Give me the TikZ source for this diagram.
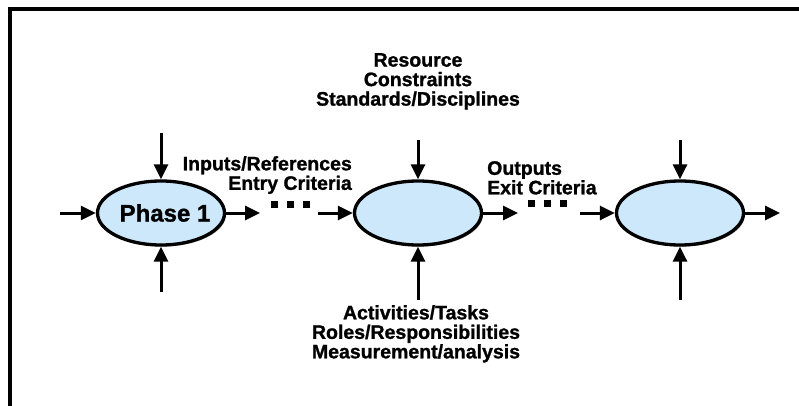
\documentclass[tikz,border=0pt]{standalone}
\usepackage{fontspec}
\setmainfont{Liberation Sans}
\newfontfamily\heavyfont{Liberation Sans Bold}[FakeBold=1.2]
\usetikzlibrary{shapes.geometric,arrows.meta,shadows}
\definecolor{phaseblue}{HTML}{CCE8FA}
\begin{document}
\begin{tikzpicture}[x=1pt,y=-1pt,
 phase/.style={ellipse, draw=black, line width=3.3pt, fill=phaseblue, minimum width=127pt, minimum height=64pt, inner sep=0pt,
   drop shadow={shadow xshift=1.5pt, shadow yshift=-1.5pt, fill=black!45, opacity=1}},
 flow/.style={line width=3pt, -{Triangle[length=15pt,width=14pt]}},
 lbl/.style={font=\heavyfont\fontsize{19.5}{19.5}\selectfont, inner sep=0pt},
 sq/.style={fill=black, minimum size=7pt, inner sep=0pt},
 frame/.style={line width=4pt, line join=miter}]
\useasboundingbox (0,0) rectangle (799,406);
\draw[frame] (10.3,406) -- (10.3,9.5) -- (799,9.5);

% phases
\node[phase] (p1) at (161,213) {};
\node[phase] (p2) at (418,213) {};
\node[phase] (p3) at (680,213) {};
\node[font=\heavyfont\fontsize{24}{24}\selectfont, inner sep=0pt] (ph1) at ([xshift=4pt]p1.center) {Phase 1};

% free ends
\coordinate (in1) at (60,213);
\coordinate (out1) at (260,213);
\coordinate (in2) at (318,213);
\coordinate (out2) at (518,213);
\coordinate (in3) at (580,213);
\coordinate (out3) at (780,213);
\coordinate (t1) at (161,133);
\coordinate (t2) at (418,140);
\coordinate (t3) at (680,140);
\coordinate (b1) at (161,292);
\coordinate (b2) at (418,300);
\coordinate (b3) at (680,300);

\draw[flow] (in1) -- (p1.west);
\draw[flow] (p1.east) -- (out1);
\draw[flow] (in2) -- (p2.west);
\draw[flow] (p2.east) -- (out2);
\draw[flow] (in3) -- (p3.west);
\draw[flow] (p3.east) -- (out3);
\draw[flow] (t1) -- (p1.north);
\draw[flow] (t2) -- (p2.north);
\draw[flow] (t3) -- (p3.north);
\draw[flow] (b1) -- (p1.south);
\draw[flow] (b2) -- (p2.south);
\draw[flow] (b3) -- (p3.south);

% ellipsis dots
\node[sq] (d1) at (274,204) {};
\node[sq] (d2) at (290,204) {};
\node[sq] (d3) at (306,204) {};
\node[sq] (d4) at (531,203) {};
\node[sq] (d5) at (547,203) {};
\node[sq] (d6) at (563,203) {};

% labels
\node[lbl, align=center, anchor=north] (res) at (418,53) {Resource\\Constraints\\Standards/Disciplines};
\node[lbl, align=right, anchor=north east] (inp) at (352,156) {Inputs/References\\Entry Criteria};
\node[lbl, align=left, anchor=north west] (outl) at (487,161) {Outputs\\Exit Criteria};
\node[lbl, align=center, anchor=north] (act) at (416,305) {Activities/Tasks\\Roles/Responsibilities\\Measurement/analysis};
\end{tikzpicture}
\end{document}
